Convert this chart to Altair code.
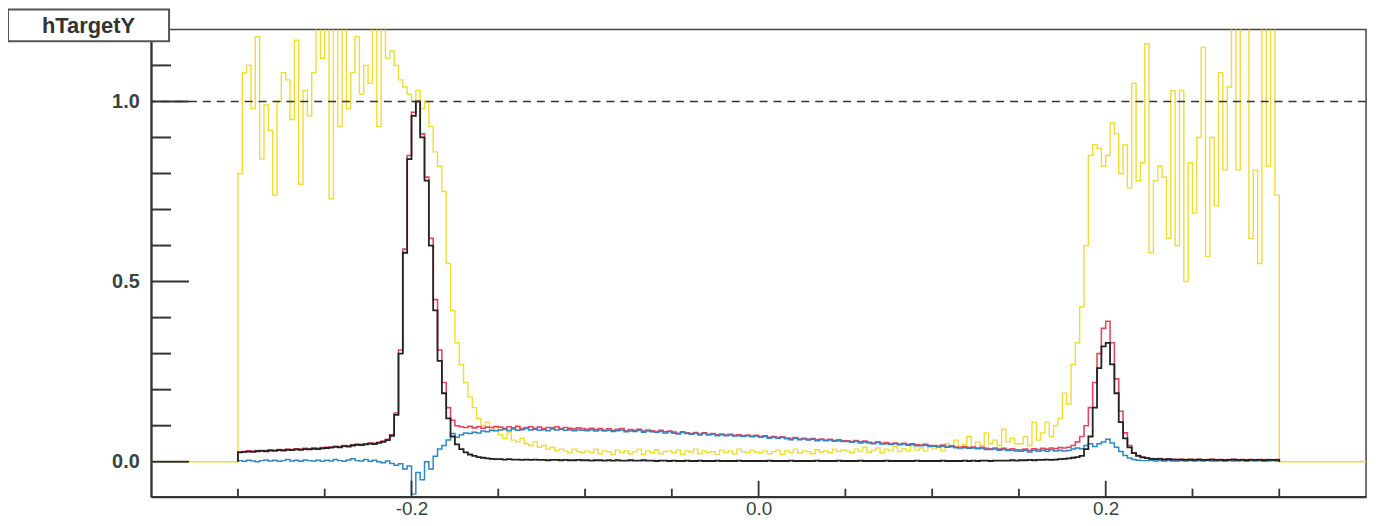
import altair as alt
import pandas as pd

# ---------------- data ----------------
X_DOMAIN = [-0.35, 0.35]
Y_DOMAIN = [-0.097, 1.2]
BIN_LO = -0.3          # first bin edge of the histograms
BIN_W = 0.0025         # bin width

x_major_ticks = [-0.2, 0.0, 0.2]
x_minor_ticks = [-0.3, -0.25, -0.15, -0.1, -0.05, 0.05, 0.1, 0.15, 0.25, 0.3]
y_major_ticks = [0.0, 0.5, 1.0]
y_minor_ticks = [0.1, 0.2, 0.3, 0.4, 0.6, 0.7, 0.8, 0.9, 1.1]
reference_level = 1.0
title_text = "hTargetY"
yellow_outside = 0.0

black = [
    0.026, 0.027, 0.028, 0.027, 0.029, 0.030, 0.029, 0.031, 0.030, 0.032, 0.031, 0.033, 0.032, 0.034, 0.033, 0.035, 0.034, 0.036, 0.035, 0.037,
    0.038, 0.039, 0.041, 0.040, 0.043, 0.042, 0.045, 0.047, 0.046, 0.048, 0.050, 0.049, 0.052, 0.055, 0.060, 0.072, 0.13, 0.30, 0.58, 0.84,
    0.96, 1.00, 0.90, 0.78, 0.60, 0.42, 0.28, 0.19, 0.12, 0.07, 0.048, 0.035, 0.026, 0.020, 0.016, 0.013, 0.011, 0.009, 0.008, 0.007,
    0.007, 0.006, 0.007, 0.006, 0.006, 0.005, 0.006, 0.005, 0.006, 0.005, 0.005, 0.004, 0.005, 0.005, 0.004, 0.005, 0.004, 0.004, 0.005, 0.004,
    0.004, 0.003, 0.004, 0.004, 0.003, 0.004, 0.003, 0.004, 0.003, 0.003, 0.004, 0.003, 0.003, 0.004, 0.003, 0.003, 0.002, 0.003, 0.003, 0.002,
    0.003, 0.002, 0.002, 0.003, 0.002, 0.002, 0.003, 0.002, 0.002, 0.002, 0.003, 0.002, 0.002, 0.002, 0.002, 0.003, 0.002, 0.002, 0.002, 0.002,
    0.002, 0.002, 0.003, 0.002, 0.002, 0.002, 0.002, 0.003, 0.002, 0.002, 0.002, 0.002, 0.002, 0.003, 0.002, 0.002, 0.002, 0.002, 0.003, 0.002,
    0.002, 0.002, 0.002, 0.003, 0.002, 0.002, 0.002, 0.002, 0.002, 0.003, 0.002, 0.002, 0.002, 0.002, 0.002, 0.002, 0.003, 0.002, 0.002, 0.002,
    0.002, 0.002, 0.003, 0.002, 0.002, 0.002, 0.002, 0.003, 0.002, 0.003, 0.002, 0.003, 0.003, 0.002, 0.003, 0.003, 0.003, 0.003, 0.004, 0.003,
    0.004, 0.004, 0.005, 0.004, 0.005, 0.005, 0.006, 0.005, 0.006, 0.007, 0.008, 0.009, 0.011, 0.013, 0.016, 0.035, 0.07, 0.15, 0.26, 0.32,
    0.33, 0.27, 0.19, 0.11, 0.065, 0.04, 0.024, 0.016, 0.012, 0.010, 0.008, 0.007, 0.008, 0.006, 0.007, 0.006, 0.006, 0.006, 0.005, 0.006,
    0.005, 0.006, 0.005, 0.005, 0.006, 0.005, 0.005, 0.004, 0.005, 0.006, 0.005, 0.005, 0.004, 0.005, 0.005, 0.005, 0.004, 0.005, 0.005, 0.005,
]

red = [
    0.027, 0.028, 0.030, 0.029, 0.031, 0.031, 0.031, 0.033, 0.032, 0.034, 0.033, 0.035, 0.034, 0.036, 0.035, 0.037, 0.036, 0.038, 0.037, 0.039,
    0.040, 0.041, 0.043, 0.042, 0.045, 0.044, 0.047, 0.049, 0.048, 0.050, 0.052, 0.051, 0.054, 0.057, 0.062, 0.075, 0.135, 0.31, 0.59, 0.85,
    0.97, 1.00, 0.91, 0.79, 0.62, 0.45, 0.31, 0.22, 0.15, 0.115, 0.10, 0.097, 0.095, 0.098, 0.094, 0.097, 0.093, 0.096, 0.095, 0.097,
    0.096, 0.093, 0.097, 0.094, 0.098, 0.092, 0.095, 0.097, 0.093, 0.096, 0.091, 0.095, 0.094, 0.097, 0.092, 0.095, 0.093, 0.091, 0.094, 0.092,
    0.090, 0.093, 0.089, 0.092, 0.088, 0.091, 0.087, 0.090, 0.092, 0.086, 0.089, 0.087, 0.090, 0.085, 0.088, 0.086, 0.084, 0.087, 0.083, 0.085,
    0.082, 0.079, 0.083, 0.080, 0.078, 0.081, 0.077, 0.080, 0.076, 0.078, 0.075, 0.077, 0.074, 0.076, 0.073, 0.075, 0.072, 0.074, 0.071, 0.073,
    0.070, 0.072, 0.068, 0.070, 0.067, 0.069, 0.066, 0.064, 0.067, 0.063, 0.065, 0.062, 0.064, 0.061, 0.063, 0.060, 0.062, 0.059, 0.061, 0.058,
    0.058, 0.056, 0.059, 0.055, 0.057, 0.054, 0.052, 0.055, 0.051, 0.053, 0.050, 0.052, 0.049, 0.051, 0.048, 0.050, 0.047, 0.046, 0.048, 0.045,
    0.045, 0.043, 0.046, 0.042, 0.044, 0.041, 0.040, 0.042, 0.039, 0.041, 0.038, 0.040, 0.037, 0.036, 0.038, 0.035, 0.037, 0.034, 0.036, 0.033,
    0.033, 0.035, 0.032, 0.036, 0.034, 0.037, 0.035, 0.038, 0.036, 0.039, 0.038, 0.040, 0.045, 0.055, 0.07, 0.10, 0.15, 0.22, 0.30, 0.37,
    0.39, 0.33, 0.23, 0.14, 0.08, 0.045, 0.025, 0.017, 0.013, 0.011, 0.009, 0.008, 0.009, 0.007, 0.008, 0.007, 0.006, 0.007, 0.006, 0.007,
    0.006, 0.007, 0.005, 0.006, 0.007, 0.005, 0.006, 0.005, 0.006, 0.007, 0.005, 0.006, 0.005, 0.006, 0.005, 0.006, 0.005, 0.006, 0.005, 0.006,
]

blue = [
    0.003, 0.001, 0.004, 0.002, 0.000, 0.003, 0.005, 0.002, 0.004, 0.001, 0.003, 0.006, 0.002, 0.004, 0.001, 0.005, 0.003, 0.002, 0.004, 0.001,
    0.004, 0.002, 0.006, 0.003, 0.001, 0.005, 0.008, 0.003, 0.002, 0.006, 0.001, 0.004, 0.000, -0.003, 0.002, -0.005, -0.010, -0.006, -0.020, -0.012,
    -0.090, -0.030, -0.050, 0.000, -0.020, 0.015, 0.035, 0.045, 0.060, 0.078, 0.068, 0.075, 0.080, 0.078, 0.082, 0.080, 0.085, 0.083, 0.087, 0.086,
    0.088, 0.090, 0.086, 0.091, 0.087, 0.089, 0.092, 0.088, 0.090, 0.087, 0.089, 0.086, 0.091, 0.088, 0.090, 0.087, 0.089, 0.086, 0.088, 0.087,
    0.086, 0.089, 0.085, 0.088, 0.085, 0.087, 0.084, 0.086, 0.088, 0.083, 0.085, 0.084, 0.087, 0.082, 0.085, 0.083, 0.082, 0.084, 0.080, 0.083,
    0.079, 0.077, 0.081, 0.078, 0.076, 0.079, 0.074, 0.078, 0.074, 0.076, 0.072, 0.075, 0.072, 0.074, 0.071, 0.072, 0.070, 0.072, 0.069, 0.071,
    0.068, 0.070, 0.065, 0.068, 0.065, 0.067, 0.064, 0.061, 0.065, 0.061, 0.063, 0.060, 0.062, 0.058, 0.061, 0.058, 0.060, 0.057, 0.058, 0.056,
    0.056, 0.054, 0.057, 0.052, 0.055, 0.052, 0.050, 0.053, 0.049, 0.050, 0.048, 0.050, 0.047, 0.049, 0.046, 0.048, 0.044, 0.044, 0.046, 0.043,
    0.043, 0.041, 0.043, 0.040, 0.042, 0.039, 0.038, 0.039, 0.037, 0.038, 0.036, 0.037, 0.034, 0.034, 0.035, 0.032, 0.034, 0.031, 0.032, 0.030,
    0.029, 0.031, 0.027, 0.032, 0.029, 0.032, 0.029, 0.033, 0.030, 0.032, 0.030, 0.031, 0.035, 0.038, 0.036, 0.045, 0.050, 0.042, 0.050, 0.055,
    0.062, 0.052, 0.040, 0.028, 0.017, 0.010, 0.006, 0.004, 0.003, 0.003, 0.004, 0.002, 0.003, 0.002, 0.003, 0.002, 0.002, 0.003, 0.002, 0.003,
    0.002, 0.003, 0.002, 0.003, 0.002, 0.002, 0.003, 0.002, 0.003, 0.002, 0.002, 0.003, 0.002, 0.003, 0.002, 0.003, 0.002, 0.002, 0.003, 0.002,
]

yellow = [
    0.80, 1.08, 1.10, 0.98, 1.18, 0.84, 0.99, 0.92, 0.74, 1.00, 1.08, 1.06, 0.95, 1.17, 0.77, 1.03, 0.96, 1.08, 1.21, 1.12,
    1.25, 0.73, 1.25, 0.93, 1.25, 0.98, 1.08, 1.18, 1.02, 1.10, 1.05, 1.25, 0.93, 1.25, 1.12, 1.14, 1.10, 1.06, 1.04, 1.02,
    1.00, 1.03, 0.98, 1.00, 0.93, 0.86, 0.82, 0.75, 0.55, 0.42, 0.33, 0.27, 0.22, 0.18, 0.15, 0.12, 0.10, 0.11, 0.085, 0.10,
    0.075, 0.065, 0.08, 0.06, 0.055, 0.065, 0.05, 0.045, 0.055, 0.04, 0.045, 0.035, 0.04, 0.03, 0.035, 0.03, 0.025, 0.035, 0.028, 0.025,
    0.03, 0.025, 0.035, 0.022, 0.03, 0.028, 0.02, 0.032, 0.025, 0.03, 0.022, 0.028, 0.035, 0.02, 0.03, 0.025, 0.033, 0.022, 0.028, 0.03,
    0.025, 0.032, 0.02, 0.03, 0.027, 0.035, 0.022, 0.03, 0.025, 0.028, 0.02, 0.032, 0.026, 0.03, 0.022, 0.035, 0.028, 0.025, 0.032, 0.027,
    0.025, 0.03, 0.022, 0.028, 0.032, 0.02, 0.03, 0.026, 0.035, 0.024, 0.03, 0.028, 0.022, 0.033, 0.027, 0.03, 0.025, 0.035, 0.028, 0.032,
    0.03, 0.025, 0.035, 0.028, 0.04, 0.026, 0.032, 0.038, 0.025, 0.035, 0.03, 0.042, 0.028, 0.036, 0.03, 0.045, 0.032, 0.038, 0.03, 0.04,
    0.035, 0.045, 0.03, 0.05, 0.04, 0.06, 0.035, 0.048, 0.07, 0.04, 0.055, 0.045, 0.08, 0.05, 0.06, 0.045, 0.09, 0.055, 0.065, 0.05,
    0.05, 0.07, 0.045, 0.11, 0.06, 0.08, 0.11, 0.07, 0.10, 0.12, 0.19, 0.16, 0.27, 0.33, 0.43, 0.60, 0.85, 0.88, 0.87, 0.82,
    0.85, 0.94, 0.91, 0.80, 0.88, 0.76, 1.05, 0.78, 0.83, 1.16, 0.58, 0.78, 0.82, 0.79, 0.62, 1.03, 0.60, 1.03, 0.50, 0.83,
    0.69, 0.90, 1.15, 0.57, 0.90, 0.71, 1.08, 0.81, 1.04, 1.30, 0.81, 1.30, 1.25, 0.62, 0.81, 0.55, 1.30, 0.82, 1.30, 0.74,
]

# ---------------- frames ----------------
def hist_frame(values):
    n = len(values)
    hi = BIN_LO + n * BIN_W
    xs = [BIN_LO] + [BIN_LO + i * BIN_W for i in range(n)] + [hi, hi]
    ys = [0.0] + list(values) + [values[-1], 0.0]
    return pd.DataFrame({"x": xs, "y": ys, "i": list(range(len(xs)))})


def yellow_frame(values):
    n = len(values)
    hi = BIN_LO + n * BIN_W
    xs = [X_DOMAIN[0]] + [BIN_LO + i * BIN_W for i in range(n)] + [hi, X_DOMAIN[1]]
    ys = [yellow_outside] + list(values) + [yellow_outside, yellow_outside]
    return pd.DataFrame({"x": xs, "y": ys, "i": list(range(len(xs)))})


FONT = "Liberation Sans"
AXIS_COLOR = "#333333"
LABEL_COLOR = "#384444"

xscale = alt.Scale(domain=X_DOMAIN, nice=False, zero=False)
yscale = alt.Scale(domain=Y_DOMAIN, nice=False, zero=False)

x_axis = alt.Axis(
    values=x_major_ticks, ticks=False, grid=False, title=None,
    labelExpr="datum.value < 0 ? '-' + format(-datum.value, '.1f') : format(datum.value, '.1f')",
    labelFont=FONT, labelFontSize=19, labelColor=LABEL_COLOR, labelPadding=3,
    domainColor=AXIS_COLOR, domainWidth=2,
)
y_axis = alt.Axis(
    values=y_major_ticks, ticks=False, grid=False, title=None,
    labelExpr="format(datum.value, '.1f')",
    labelFont=FONT, labelFontSize=20, labelFontWeight="bold", labelColor=LABEL_COLOR,
    labelPadding=12, domainColor=AXIS_COLOR, domainWidth=2,
)


def X(field):
    return alt.X(field, scale=xscale, axis=x_axis)


def Y(field):
    return alt.Y(field, scale=yscale, axis=y_axis)


def hist_layer(df, color, width):
    return alt.Chart(df).mark_line(
        interpolate="step-after", clip=True, color=color, strokeWidth=width
    ).encode(x=X("x:Q"), y=Y("y:Q"), order="i:Q")


yellow_layer = hist_layer(yellow_frame(yellow), "#f2dc33", 1.4)
red_layer = hist_layer(hist_frame(red), "#e8455e", 1.6)
blue_layer = hist_layer(hist_frame(blue), "#2f86c2", 1.5)
black_layer = hist_layer(hist_frame(black), "#222222", 1.8)

dashed = alt.Chart(pd.DataFrame({"v": [reference_level]})).mark_rule(
    color="#333333", strokeWidth=1.6, strokeDash=[8, 6]
).encode(y=Y("v:Q"))

PLOT_H = 470


def y_tick_layer(vals, length):
    return alt.Chart(pd.DataFrame({"v": vals})).mark_rule(
        color=AXIS_COLOR, strokeWidth=2
    ).encode(y=Y("v:Q"), x=alt.value(0), x2=alt.value(length))


def x_tick_layer(vals, length):
    return alt.Chart(pd.DataFrame({"v": vals})).mark_rule(
        color=AXIS_COLOR, strokeWidth=1.8
    ).encode(x=X("v:Q"), y=alt.value(PLOT_H), y2=alt.value(PLOT_H - length))


title_df = pd.DataFrame({"t": [title_text]})
title_box = alt.Chart(title_df).mark_rect(
    fill="white", stroke="#555555", strokeWidth=2
).encode(x=alt.value(-144), x2=alt.value(18), y=alt.value(-20), y2=alt.value(12))
title_label = alt.Chart(title_df).mark_text(
    font=FONT, fontSize=22, fontWeight="bold", color="#333333", align="center", baseline="middle"
).encode(x=alt.value(-63), y=alt.value(-3), text="t:N")

chart = alt.layer(
    yellow_layer, red_layer, blue_layer, black_layer, dashed,
    y_tick_layer(y_major_ticks, 38), y_tick_layer(y_minor_ticks, 20),
    x_tick_layer(x_major_ticks, 16), x_tick_layer(x_minor_ticks, 8),
    title_box, title_label,
).properties(
    width=1222, height=PLOT_H,
    autosize=alt.AutoSizeParams(type="none"),
    padding={"left": 144, "top": 20, "right": 8, "bottom": 26},
    background="white",
).configure_view(stroke="#444444", strokeWidth=1.5)

chart.save("out.html", embed_options={"renderer": "svg", "actions": False})
